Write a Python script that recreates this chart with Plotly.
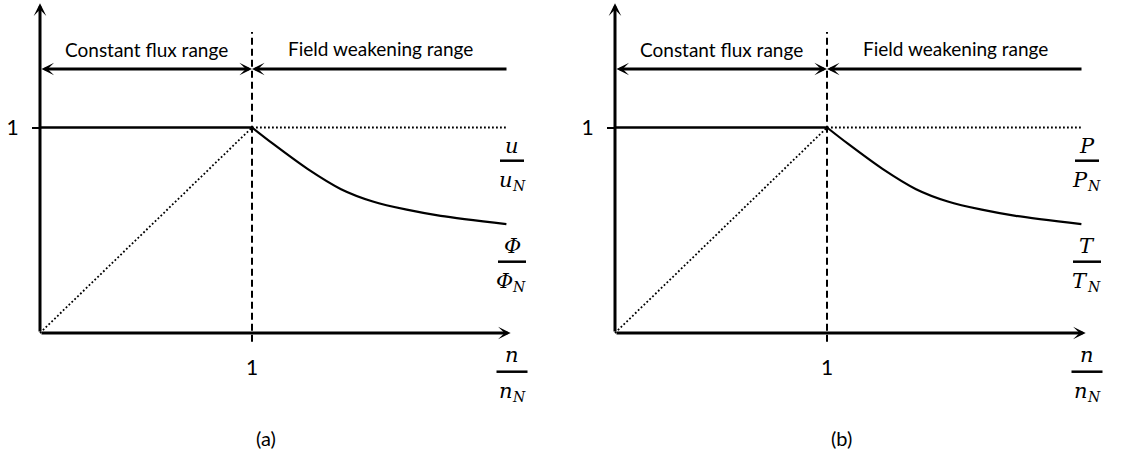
import plotly.graph_objects as go

# ---- data (per-unit quantities) -------------------------------------------
# field-weakening curve (flux / torque) beyond base speed
n_weak = [1.0, 1.1, 1.26, 1.42, 1.57, 1.73, 1.89, 2.2]
y_weak = [1.0, 0.92, 0.80, 0.70, 0.64, 0.60, 0.57, 0.53]
# constant-flux level below base speed
n_const = [0.0, 1.0]
y_const = [1.0, 1.0]
# linear rise of voltage / power up to base speed
n_ramp = [0.0, 1.0]
y_ramp = [0.0, 1.0]
# voltage / power held at rated value above base speed
n_flat = [1.0, 2.2]
y_flat = [1.0, 1.0]
# base speed and rated level
n_base = 1.0
y_rated = 1.0

range_labels = ["Constant flux range", "Field weakening range"]
panel_tags = ["(a)", "(b)"]
upper_symbols = ["u", "P"]
lower_symbols = ["Φ", "T"]
rated_subscript = "N"
tick_labels = ["1"]

# ---- geometry --------------------------------------------------------------
W, H = 1122, 457
UX, UY = 212.0, 205.5          # pixels per unit on x / y
ORIGIN_Y = 333.0               # pixel row of the n-axis
ORIGINS_X = [40.0, 615.0]      # pixel column of each panel's vertical axis
DOMAINS = [[0.0, 0.5], [0.5, 1.0]]

TEXT_FONT = "Lato"
MATH_FONT = "DejaVu Serif"

fig = go.Figure()
annotations = []
shapes = []

y_lo = (ORIGIN_Y - H) / UY
y_hi = ORIGIN_Y / UY


def px_x(px):
    return (px - ORIGINS_X[0]) / UX


def px_y(py):
    return (ORIGIN_Y - py) / UY


for i in range(2):
    sfx = "" if i == 0 else str(i + 1)
    xr, yr = "x" + sfx, "y" + sfx
    dom = DOMAINS[i]
    ox = ORIGINS_X[i]
    x_lo = (dom[0] * W - ox) / UX
    x_hi = (dom[1] * W - ox) / UX

    dotted = dict(color="black", width=1.8, dash="1.8px,2.2px")
    # dotted ramp and dotted rated level
    fig.add_trace(go.Scatter(x=n_ramp, y=y_ramp, mode="lines", xaxis=xr, yaxis=yr,
                             line=dotted, hoverinfo="skip", showlegend=False))
    fig.add_trace(go.Scatter(x=n_flat, y=y_flat, mode="lines", xaxis=xr, yaxis=yr,
                             line=dotted, hoverinfo="skip", showlegend=False))
    # constant level below base speed
    fig.add_trace(go.Scatter(x=n_const, y=y_const, mode="lines", xaxis=xr, yaxis=yr,
                             line=dict(color="black", width=2.4),
                             hoverinfo="skip", showlegend=False))
    # field-weakening decay
    fig.add_trace(go.Scatter(x=n_weak, y=y_weak, mode="lines", xaxis=xr, yaxis=yr,
                             line=dict(color="black", width=2.2, shape="spline", smoothing=0.8),
                             hoverinfo="skip", showlegend=False))
    # base-speed divider
    fig.add_trace(go.Scatter(x=[n_base, n_base], y=[-0.042, 1.465], mode="lines",
                             xaxis=xr, yaxis=yr,
                             line=dict(color="black", width=2, dash="7px,4px"),
                             hoverinfo="skip", showlegend=False))

    arrow_kw = dict(xref=xr, yref=yr, axref=xr, ayref=yr, text="", showarrow=True,
                    arrowhead=3, arrowsize=0.7, arrowwidth=3, arrowcolor="black")
    # axes with arrowheads
    annotations.append(dict(x=px_x(510.7), y=0, ax=0, ay=0, **arrow_kw))
    annotations.append(dict(x=0, y=px_y(3.3), ax=0, ay=0, **arrow_kw))
    # range arrows
    ry = px_y(69)
    annotations.append(dict(x=n_base, y=ry, ax=0, ay=ry, arrowside="end+start",
                            startarrowhead=3, startarrowsize=0.7, **arrow_kw))
    annotations.append(dict(x=n_base, y=ry, ax=px_x(508), ay=ry, **arrow_kw))

    # range captions
    annotations.append(dict(x=n_base / 2, y=px_y(49), xref=xr, yref=yr,
                            text=range_labels[0], showarrow=False,
                            font=dict(family=TEXT_FONT, size=19, color="black")))
    annotations.append(dict(x=px_x(380), y=px_y(48), xref=xr, yref=yr,
                            text=range_labels[1], showarrow=False,
                            font=dict(family=TEXT_FONT, size=19, color="black")))
    # panel tag
    annotations.append(dict(x=px_x(266), y=px_y(438), xref=xr, yref=yr,
                            text=panel_tags[i], showarrow=False,
                            font=dict(family=TEXT_FONT, size=20, color="black")))

    # fraction labels: (symbol, numerator row, bar row, denominator row, bar half-width)
    fracs = [
        (upper_symbols[i], 146, 160.7, 180, 12),
        (lower_symbols[i], 246, 261.7, 281, 14),
        ("n", 355, 371.7, 391, 15.5),
    ]
    cx = px_x(512)
    split = px_x(515)
    mf = dict(family=MATH_FONT, size=21, color="black")
    sf = dict(family=MATH_FONT, size=14, color="black")
    for sym, ny, by, dy, hw in fracs:
        annotations.append(dict(x=cx, y=px_y(ny), xref=xr, yref=yr,
                                text="<i>%s</i>" % sym, showarrow=False, font=mf))
        annotations.append(dict(x=split, y=px_y(dy), xref=xr, yref=yr, xanchor="right",
                                text="<i>%s</i>" % sym, showarrow=False, font=mf))
        annotations.append(dict(x=split - 5.5 / UX, y=px_y(dy + 6), xref=xr, yref=yr,
                                xanchor="left", text="<i>%s</i>" % rated_subscript,
                                showarrow=False, font=sf))
        shapes.append(dict(type="line", xref=xr, yref=yr,
                           x0=cx - hw / UX, x1=cx + hw / UX,
                           y0=px_y(by), y1=px_y(by),
                           line=dict(color="black", width=2.5)))

    fig.layout["xaxis" + sfx] = dict(
        domain=dom, range=[x_lo, x_hi], anchor="free", position=(H - ORIGIN_Y) / H,
        showgrid=False, zeroline=False, showline=False,
        tickvals=[n_base], ticktext=tick_labels, ticks="",
        ticklabelstandoff=20,
        tickfont=dict(family=TEXT_FONT, size=21, color="black"),
        fixedrange=True)
    fig.layout["yaxis" + sfx] = dict(
        domain=[0, 1], range=[y_lo, y_hi], anchor="free", position=ox / W,
        showgrid=False, zeroline=False, showline=False,
        tickvals=[y_rated], ticktext=tick_labels, ticks="outside", ticklen=8,
        tickwidth=2, tickcolor="black", ticklabelstandoff=9,
        tickfont=dict(family=TEXT_FONT, size=21, color="black"),
        fixedrange=True)

fig.update_layout(
    width=W, height=H, margin=dict(l=0, r=0, t=0, b=0),
    paper_bgcolor="white", plot_bgcolor="white",
    showlegend=False, annotations=annotations, shapes=shapes,
)

fig.write_html("out.html", config={"displayModeBar": False})
